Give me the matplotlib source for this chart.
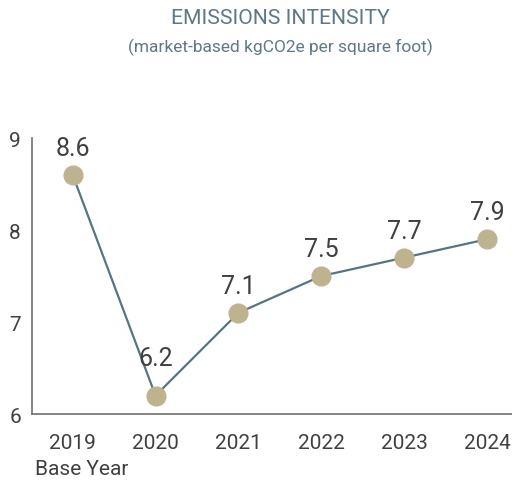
import matplotlib.pyplot as plt

years = ['2019', '2020', '2021', '2022', '2023', '2024']
intensity = [8.6, 6.2, 7.1, 7.5, 7.7, 7.9]
label_offsets = [27, 38, 27, 27, 27, 27]  # points above each marker

plt.rcParams['font.family'] = ['Roboto', 'DejaVu Sans']

line_color = '#557585'
dot_color = '#BFB38F'
text_color = '#404040'
title_color = '#5E7886'

fig = plt.figure(figsize=(5.12, 4.85), dpi=100)
ax = fig.add_axes([0.0625, 0.1443, 0.9375, 0.5691])

x = list(range(len(years)))
ax.plot(x, intensity, color=line_color, linewidth=1.6, zorder=2)
ax.plot(x, intensity, 'o', color=dot_color, markersize=13.5, zorder=3)

for xi, v, off in zip(x, intensity, label_offsets):
    ax.annotate(f'{v:.1f}', (xi, v), xytext=(0, off * 0.72), textcoords='offset points',
                ha='center', va='center', fontsize=18, color=text_color)

ax.set_ylim(6, 9)
ax.set_xlim(-0.49, 5.3)
ax.set_yticks([6, 7, 8, 9])
ax.set_xticks(x)
ax.set_xticklabels(years)
ax.tick_params(axis='both', length=0, labelsize=15, colors=text_color)
ax.tick_params(axis='x', pad=14)
ax.tick_params(axis='y', pad=8)

for side in ['top', 'right']:
    ax.spines[side].set_visible(False)
for side in ['left', 'bottom']:
    ax.spines[side].set_color('#707070')
    ax.spines[side].set_linewidth(1.2)

fig.text(35 / 512, 1 - 470 / 485, 'Base Year', ha='left', va='center',
         fontsize=15, color=text_color)

fig.text(280 / 512, 1 - 18 / 485, 'EMISSIONS INTENSITY', ha='center', va='center',
         fontsize=15.2, color=title_color)
fig.text(280 / 512, 1 - 47 / 485, '(market-based kgCO2e per square foot)', ha='center',
         va='center', fontsize=12.5, color=title_color)

fig.savefig('out.png', dpi=100)
